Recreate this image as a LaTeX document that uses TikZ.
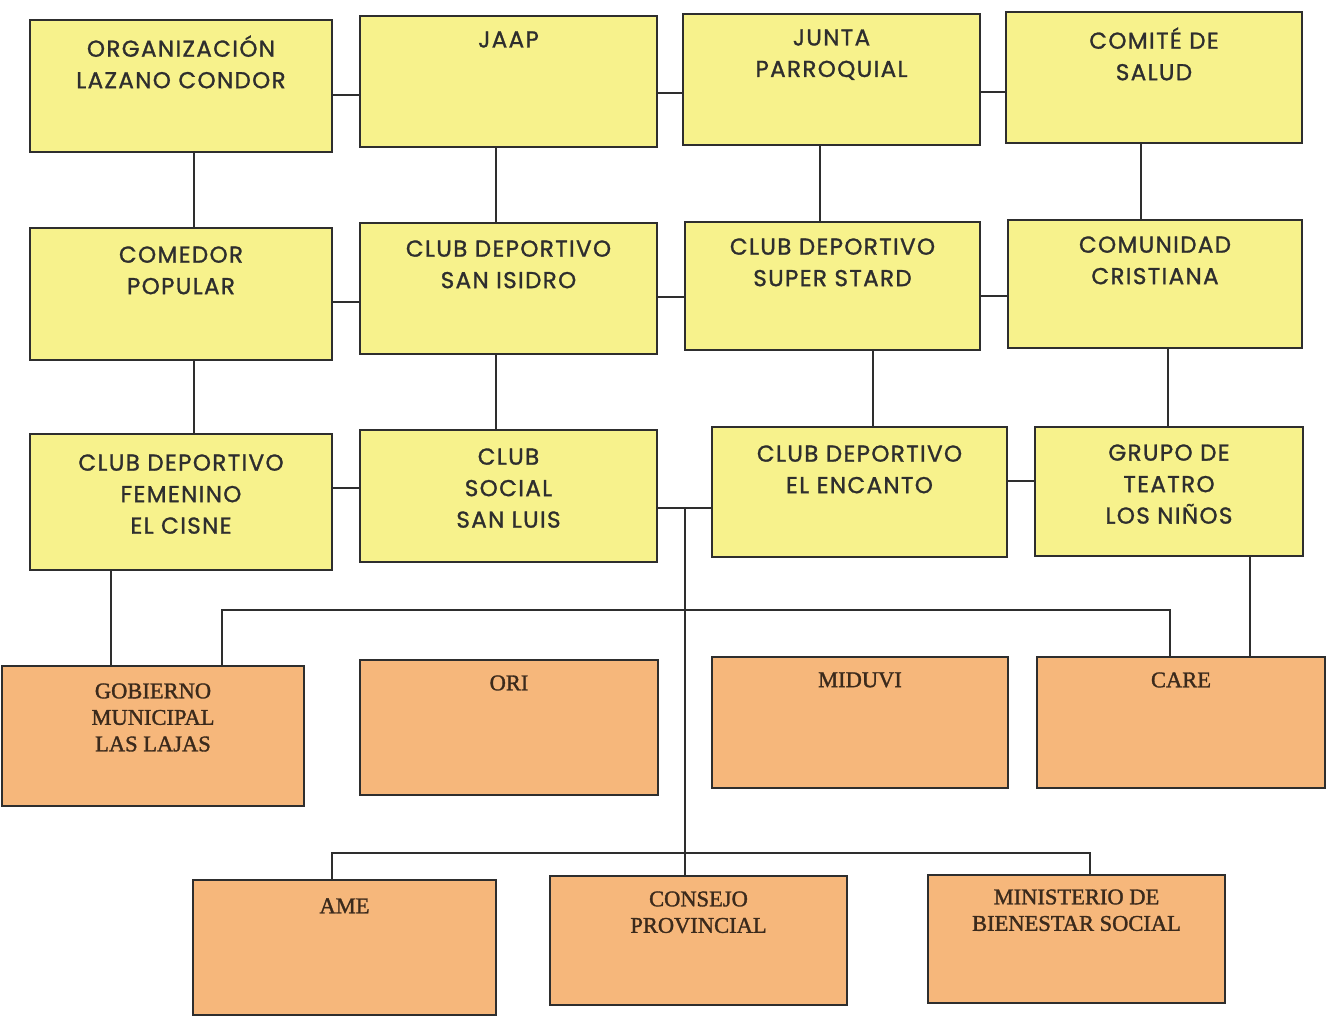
\documentclass[tikz,border=0pt]{standalone}
\usepackage{fontspec}
\newfontfamily\ytfont[LetterSpace=6,FakeBold=1.2]{Poppins}
\newfontfamily\ortfont[FakeBold=1.4]{Liberation Serif}
\definecolor{ybox}{HTML}{F7F28C}
\definecolor{obox}{HTML}{F6B77B}
\definecolor{edge}{HTML}{2E2E2E}
\definecolor{otxt}{HTML}{3B2A1C}
\begin{document}
\begin{tikzpicture}[x=1pt,y=-1pt,
  ybx/.style={draw=edge,line width=1.6pt,fill=ybox,inner sep=0pt},
  obx/.style={draw=edge,line width=1.6pt,fill=obox,inner sep=0pt},
  ylab/.style={anchor=north,inner sep=0pt,align=center,text=edge,
     font=\ytfont\fontsize{23}{31.5}\selectfont},
  olab/.style={anchor=north,inner sep=0pt,align=center,text=otxt,
     font=\ortfont\fontsize{22.5}{26.5}\selectfont},
  con/.style={draw=edge,line width=1.4pt}]
\useasboundingbox (0,0) rectangle (1327,1015);
\fill[white] (0,0) rectangle (1327,1015);
% ---- yellow boxes
\node[ybx,minimum width=302,minimum height=132] (org) at (181,86) {};
\node[ybx,minimum width=297,minimum height=131] (jaap) at (508.5,81.5) {};
\node[ybx,minimum width=297,minimum height=131] (junta) at (831.5,79.5) {};
\node[ybx,minimum width=296,minimum height=131] (comite) at (1154,77.5) {};
\node[ybx,minimum width=302,minimum height=132] (comedor) at (181,294) {};
\node[ybx,minimum width=297,minimum height=131] (isidro) at (508.5,288.5) {};
\node[ybx,minimum width=295,minimum height=128] (super) at (832.5,286) {};
\node[ybx,minimum width=294,minimum height=128] (comunidad) at (1155,284) {};
\node[ybx,minimum width=302,minimum height=136] (femenino) at (181,502) {};
\node[ybx,minimum width=297,minimum height=132] (luis) at (508.5,496) {};
\node[ybx,minimum width=295,minimum height=130] (encanto) at (859.5,492) {};
\node[ybx,minimum width=268,minimum height=129] (teatro) at (1169,491.5) {};
% ---- orange boxes
\node[obx,minimum width=302,minimum height=140] (gobierno) at (153,736) {};
\node[obx,minimum width=298,minimum height=135] (ori) at (509,727.5) {};
\node[obx,minimum width=296,minimum height=131] (miduvi) at (860,722.5) {};
\node[obx,minimum width=288,minimum height=131] (care) at (1181,722.5) {};
\node[obx,minimum width=303,minimum height=135] (ame) at (344.5,947.5) {};
\node[obx,minimum width=297,minimum height=129] (consejo) at (698.5,940.5) {};
\node[obx,minimum width=297,minimum height=128] (ministerio) at (1076.5,939) {};
% ---- labels
\node[ylab] (org-t) at ([yshift=-16pt]org.north) {ORGANIZACIÓN\\LAZANO CONDOR};
\node[ylab] (jaap-t) at ([yshift=-16pt]jaap.north) {JAAP};
\node[ylab] (junta-t) at ([yshift=-16pt]junta.north) {JUNTA\\PARROQUIAL};
\node[ylab] (comite-t) at ([yshift=-16pt]comite.north) {COMITÉ DE\\SALUD};
\node[ylab] (comedor-t) at ([yshift=-19pt]comedor.north) {COMEDOR\\POPULAR};
\node[ylab] (isidro-t) at ([yshift=-18pt]isidro.north) {CLUB DEPORTIVO\\SAN ISIDRO};
\node[ylab] (super-t) at ([yshift=-17pt]super.north) {CLUB DEPORTIVO\\SUPER STARD};
\node[ylab] (comunidad-t) at ([yshift=-17pt]comunidad.north) {COMUNIDAD\\CRISTIANA};
\node[ylab] (femenino-t) at ([yshift=-21pt]femenino.north) {CLUB DEPORTIVO\\FEMENINO\\EL CISNE};
\node[ylab] (luis-t) at ([yshift=-19pt]luis.north) {CLUB\\SOCIAL\\SAN LUIS};
\node[ylab] (encanto-t) at ([yshift=-19pt]encanto.north) {CLUB DEPORTIVO\\EL ENCANTO};
\node[ylab] (teatro-t) at ([yshift=-18pt]teatro.north) {GRUPO DE\\TEATRO\\LOS NIÑOS};
\node[olab] (gobierno-t) at ([yshift=-18pt]gobierno.north) {GOBIERNO\\MUNICIPAL\\LAS LAJAS};
\node[olab] (ori-t) at ([yshift=-16pt]ori.north) {ORI};
\node[olab] (miduvi-t) at ([yshift=-16pt]miduvi.north) {MIDUVI};
\node[olab] (care-t) at ([yshift=-16pt]care.north) {CARE};
\node[olab] (ame-t) at ([yshift=-19pt]ame.north) {AME};
\node[olab] (consejo-t) at ([yshift=-16pt]consejo.north) {CONSEJO\\PROVINCIAL};
\node[olab] (ministerio-t) at ([yshift=-15pt]ministerio.north) {MINISTERIO DE\\BIENESTAR SOCIAL};
% ---- horizontal links
\draw[con] (org.east |- 0,95) -- (jaap.west |- 0,95);
\draw[con] (jaap.east |- 0,93) -- (junta.west |- 0,93);
\draw[con] (junta.east |- 0,92) -- (comite.west |- 0,92);
\draw[con] (comedor.east |- 0,302) -- (isidro.west |- 0,302);
\draw[con] (isidro.east |- 0,297) -- (super.west |- 0,297);
\draw[con] (super.east |- 0,296) -- (comunidad.west |- 0,296);
\draw[con] (femenino.east |- 0,488) -- (luis.west |- 0,488);
\draw[con] (encanto.east |- 0,481) -- (teatro.west |- 0,481);
% ---- vertical links
\draw[con] (org.south -| 194,0) -- (comedor.north -| 194,0);
\draw[con] (comedor.south -| 194,0) -- (femenino.north -| 194,0);
\draw[con] (jaap.south -| 496,0) -- (isidro.north -| 496,0);
\draw[con] (isidro.south -| 496,0) -- (luis.north -| 496,0);
\draw[con] (junta.south -| 820,0) -- (super.north -| 820,0);
\draw[con] (super.south -| 873,0) -- (encanto.north -| 873,0);
\draw[con] (comite.south -| 1141,0) -- (comunidad.north -| 1141,0);
\draw[con] (comunidad.south -| 1168,0) -- (teatro.north -| 1168,0);
\draw[con] (femenino.south -| 111,0) -- (gobierno.north -| 111,0);
\draw[con] (teatro.south -| 1250,0) -- (care.north -| 1250,0);
% ---- central trunk
\coordinate (hub) at (685,508);
\coordinate (bar) at (685,610);
\coordinate (bar2) at (685,853);
\draw[con] (luis.east |- hub) -- (encanto.west |- hub);
\draw[con] (hub) -- (consejo.north -| hub);
\draw[con] (gobierno.north -| 222,0) |- (bar) -| (care.north -| 1170,0);
\draw[con] (ori.north -| 549,0) -- (ori.north -| 549,610);
\draw[con] (miduvi.north -| 900,0) -- (miduvi.north -| 900,610);
\draw[con] (ame.north -| 332,0) |- (bar2) -| (ministerio.north -| 1090,0);
\end{tikzpicture}
\end{document}
